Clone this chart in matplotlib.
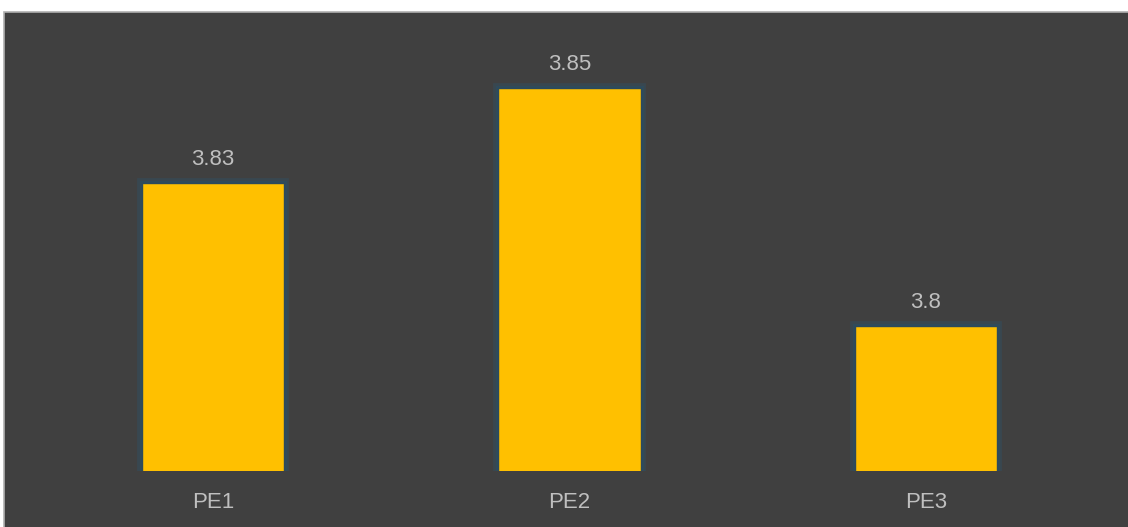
import matplotlib
matplotlib.use('Agg')
import matplotlib.pyplot as plt
from matplotlib.patches import Rectangle
import matplotlib.patheffects as pe

categories = ['PE1', 'PE2', 'PE3']
values = [3.83, 3.85, 3.8]

bg = '#404040'
bar_color = '#ffc000'
text_color = '#bfbfbf'

fig = plt.figure(figsize=(11.28, 5.27), dpi=100)
fig.patch.set_facecolor('white')

# dark panel with thin grey border (runs off the right and bottom edges)
W, H = 1128, 527
panel = Rectangle((4 / W, -0.05), 1.05, 1.05 - 12 / H, transform=fig.transFigure,
                  facecolor=bg, edgecolor='#b0b0b0', linewidth=1.2, zorder=-10)
fig.patches.append(panel)

ax = fig.add_axes([4 / W, (527 - 471) / H, 1 - 4 / W, (471 - 12) / H])
ax.set_facecolor('none')
ax.set_zorder(5)

x = range(len(categories))
bars = ax.bar(x, values, width=0.4, color=bar_color, edgecolor='#2d4a5a', linewidth=1)
for b in bars:
    b.set_path_effects([pe.Stroke(linewidth=7, foreground='#2a5570', alpha=0.35),
                        pe.Stroke(linewidth=3.5, foreground='#2d4d60', alpha=0.8),
                        pe.Normal()])

ax.set_xlim(-0.586, 2.567)
ax.set_ylim(3.7696, 3.8659)

for xi, v in zip(x, values):
    ax.annotate(f'{v:g}', (xi, v), xytext=(0, 13), textcoords='offset points',
                ha='center', va='baseline', color=text_color, fontsize=16,
                family='Liberation Sans')

ax.set_xticks(list(x))
ax.set_xticklabels(categories, color=text_color, fontsize=16, family='Liberation Sans',
                   va='baseline')
ax.tick_params(axis='x', length=0, pad=26.5)
ax.set_yticks([])
for s in ax.spines.values():
    s.set_visible(False)

fig.savefig('out.png', dpi=100, facecolor=fig.get_facecolor())
